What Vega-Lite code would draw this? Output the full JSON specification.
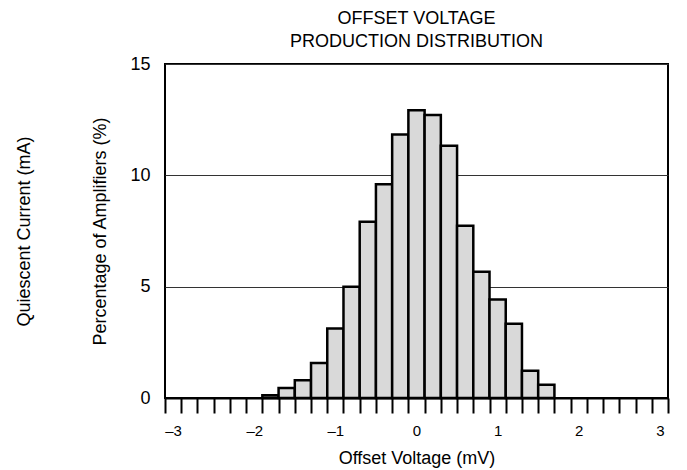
{
  "$schema": "https://vega.github.io/schema/vega-lite/v6.json",
  "width": 503,
  "height": 334,
  "autosize": {"type": "none"},
  "padding": {"left": 165, "top": 64, "right": 19, "bottom": 72},
  "background": "white",
  "title": {
    "text": ["OFFSET VOLTAGE", "PRODUCTION DISTRIBUTION"],
    "fontSize": 18,
    "fontWeight": "normal",
    "font": "Liberation Sans",
    "color": "black",
    "lineHeight": 23,
    "anchor": "middle",
    "offset": 4
  },
  "config": {
    "font": "Liberation Sans",
    "view": {"stroke": "black", "strokeWidth": 2}
  },
  "data": {
    "values": [
      {"lo": -1.9, "hi": -1.7, "pct": 0.12},
      {"lo": -1.7, "hi": -1.5, "pct": 0.45},
      {"lo": -1.5, "hi": -1.3, "pct": 0.8},
      {"lo": -1.3, "hi": -1.1, "pct": 1.57},
      {"lo": -1.1, "hi": -0.9, "pct": 3.12},
      {"lo": -0.9, "hi": -0.7, "pct": 5.0},
      {"lo": -0.7, "hi": -0.5, "pct": 7.92},
      {"lo": -0.5, "hi": -0.3, "pct": 9.6},
      {"lo": -0.3, "hi": -0.1, "pct": 11.83},
      {"lo": -0.1, "hi": 0.1, "pct": 12.92},
      {"lo": 0.1, "hi": 0.3, "pct": 12.71},
      {"lo": 0.3, "hi": 0.5, "pct": 11.33},
      {"lo": 0.5, "hi": 0.7, "pct": 7.74},
      {"lo": 0.7, "hi": 0.9, "pct": 5.67},
      {"lo": 0.9, "hi": 1.1, "pct": 4.42},
      {"lo": 1.1, "hi": 1.3, "pct": 3.33},
      {"lo": 1.3, "hi": 1.5, "pct": 1.22},
      {"lo": 1.5, "hi": 1.7, "pct": 0.6}
    ]
  },
  "mark": {"type": "bar", "fill": "#d9d9d9", "stroke": "black", "strokeWidth": 2.5},
  "encoding": {
    "x": {
      "field": "lo",
      "type": "quantitative",
      "scale": {"domain": [-3.1, 3.1], "nice": false, "zero": false},
      "axis": {
        "title": "Offset Voltage (mV)",
        "titleFontSize": 18,
        "titleFontWeight": "normal",
        "titleColor": "black",
        "titlePadding": 11,
        "values": [-3.1, -2.9, -2.7, -2.5, -2.3, -2.1, -1.9, -1.7, -1.5, -1.3, -1.1, -0.9, -0.7, -0.5, -0.3, -0.1, 0.1, 0.3, 0.5, 0.7, 0.9, 1.1, 1.3, 1.5, 1.7, 1.9, 2.1, 2.3, 2.5, 2.7, 2.9, 3.1],
        "labelExpr": "abs((datum.value + 0.1) - round(datum.value + 0.1)) < 0.001 && datum.value < 3 ? (round(datum.value + 0.1) < 0 ? '–' + (-round(datum.value + 0.1)) : '' + round(datum.value + 0.1)) : ''",
        "labelOffset": 8.1,
        "labelFontSize": 15,
        "labelColor": "black",
        "labelPadding": 10,
        "labelFlush": false,
        "labelOverlap": false,
        "tickSize": 15,
        "tickWidth": 2,
        "tickColor": "black",
        "domainColor": "black",
        "domainWidth": 2,
        "grid": false
      }
    },
    "x2": {"field": "hi"},
    "y": {
      "field": "pct",
      "type": "quantitative",
      "scale": {"domain": [0, 15], "nice": false},
      "axis": {
        "title": ["Quiescent Current (mA)", "Percentage of Amplifiers (%)"],
        "titleFontSize": 18,
        "titleFontWeight": "normal",
        "titleColor": "black",
        "titleLineHeight": 76,
        "titlePadding": 20,
        "values": [0, 5, 10, 15],
        "labelFontSize": 18,
        "labelColor": "black",
        "labelPadding": 15,
        "ticks": false,
        "domain": false,
        "grid": true,
        "gridColor": "#333333",
        "gridWidth": 1
      }
    },
    "y2": {"datum": 0}
  }
}
